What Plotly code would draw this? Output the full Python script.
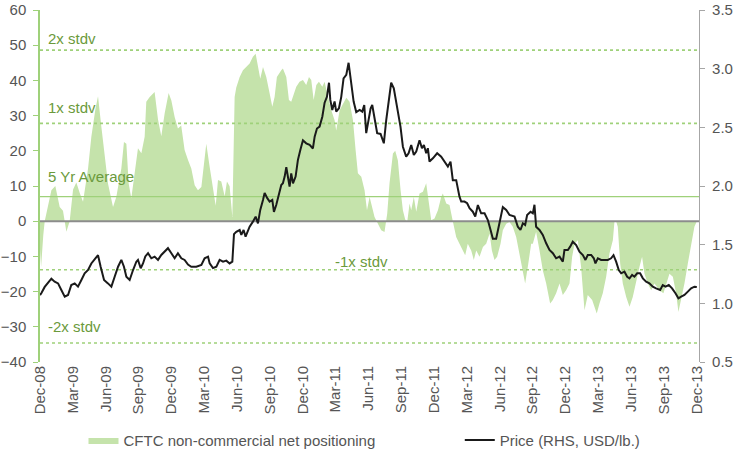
import plotly.graph_objects as go

# ---------------- data ----------------
# months since Dec-08
cftc_month = [0, 0.1, 0.3, 0.43, 1.04, 1.4, 1.8, 2.1, 2.41, 2.71, 3.02, 3.32, 3.63, 3.93, 4.39, 4.69,
              5.06, 5.3, 5.6, 5.91, 6.21, 6.67, 6.97, 7.43, 7.67, 7.89, 8.1, 8.34, 8.65, 8.95, 9.26,
              9.56, 9.71, 10.02, 10.47, 10.78, 11.08, 11.39, 11.75, 12.0, 12.3, 12.6, 12.9, 13.21,
              13.52, 13.82, 14.13, 14.43, 14.74, 15.04, 15.19, 15.5, 15.8, 16.05, 16.26, 16.56,
              16.87, 17.08, 17.32, 17.57, 17.78, 17.93, 18.24, 18.54, 19.15, 19.45, 19.7, 19.91,
              20.12, 20.37, 20.67, 20.98, 21.22, 21.43, 21.64, 22.04, 22.19, 22.5, 22.74, 22.95,
              23.17, 23.41, 23.71, 24.02, 24.32, 24.57, 24.78, 25.0, 25.24, 25.48, 25.79, 26.0,
              26.3, 26.61, 26.91, 27.06, 27.37, 27.67, 27.98, 28.28, 28.59, 28.83, 29.04, 29.35,
              29.65, 29.87, 30.11, 30.41, 30.56, 30.87, 31.17, 31.47, 31.72, 31.93, 32.24, 32.45,
              32.69, 32.94, 33.15, 33.36, 33.55, 33.76, 33.91, 34.15, 34.37, 34.67, 34.98, 35.28,
              35.43, 35.74, 36.04, 36.35, 36.65, 36.8, 37.11, 37.41, 37.71, 38.02, 38.32, 38.63,
              38.84, 39.08, 39.39, 39.63, 39.85, 40.15, 40.46, 40.76, 41.07, 41.28, 41.52, 41.76,
              42.07, 42.28, 42.59, 42.89, 43.19, 43.5, 43.8, 44.02, 44.32, 44.56, 44.87, 45.02,
              45.32, 45.63, 45.93, 46.24, 46.6, 46.85, 47.15, 47.46, 47.76, 48.06, 48.37, 48.61,
              48.83, 49.13, 49.43, 49.74, 50.04, 50.44, 50.86, 51.11, 51.41, 51.72, 52.02, 52.33,
              52.48, 52.63, 52.78, 53.0, 53.24, 53.55, 53.85, 54.15, 54.46, 54.76, 55.0, 55.22,
              55.52, 55.83, 56.13, 56.59, 56.95, 57.2, 57.5, 57.81, 58.11, 58.32, 58.57, 58.87,
              59.18, 59.48, 59.78, 60.0]
cftc_value = [-8, -13, -4, 0, 8.8, 10, 4, 3, -3, 0, 9, 11, 8, 5.5, 15, 24,
              31.8, 35.5, 27, 18.8, 10.7, 4, 6.9, 15, 22.5, 22, 10.7, 6.5, 14.5, 20.7, 19.3,
              24, 33.9, 35.3, 36.7, 28.9, 24.1, 30.7, 36.4, 34.3, 29.6, 26.3, 27.2, 20.2,
              17.4, 15, 10.2, 8.8, 9.7, 17.4, 22, 15.4, 8.8, 4.4, 11.7, 11.3,
              7.1, 11.3, 9.9, 1.2, 35.3, 38, 41, 42.9, 44.8, 46.7, 47.6, 44,
              40.5, 43.8, 41, 36.3, 32.5, 35.3, 41, 42.9, 43.4, 41, 34.4, 33.9,
              36.3, 38.2, 39.6, 40.1, 38.7, 41, 40.1, 34.4, 38.7, 39.6, 38.2, 39.6,
              35.3, 31.5, 28.7, 25.8, 31.5, 33.4, 35.1, 33.9, 28.7, 20.2, 13.6, 12.6,
              8.8, 3.1, 6.9, 3.1, 1.2, -0.7, -2.6, -3.1, 2.2, 10.8, 19.2, 20,
              17.3, 8.8, 3.1, 0.5, -0.1, 5, 3.1, 6.9, 2.7, 7.9, 8.4, 10.8,
              6.9, 0.3, 0.8, 3.1, 6.9, 7.9, 5, 4.6, 0, -4.5, -6.4, -8.3,
              -9.7, -6.4, -8.3, -11, -8.3, -10.1, -7.3, -6.4, -3.5, -8.3, -11, -10.1,
              -6.4, -2.6, -0.7, -0.2, -1.6, -4.5, -9.2, -13, -17.7, -13, -6.4, -6.4,
              -3, -8.3, -13.9, -17.7, -23.4, -22.4, -20.5, -17.7, -21, -19.6, -17.7, -10.1,
              -6.4, -5.4, -13, -25.3, -21, -22.4, -26.2, -23.4, -20.5, -15.8, -9.2, -5.4,
              0, 0, -1.6, -12, -17.7, -21.5, -24.3, -21.5, -16.8, -13, -10.1, -14.9,
              -17.7, -19.6, -17.7, -19.6, -20.5, -17.7, -14.9, -15.8, -20.5, -25.8, -22.4, -17.7,
              -12, -6.4, -1.6, 0]

price_month = [0, 0.12, 0.43, 0.73, 1.04, 1.34, 1.65, 1.95, 2.26, 2.56, 2.86, 3.17, 3.47, 3.78,
               4.08, 4.39, 4.69, 5.06, 5.3, 5.54, 5.85, 6.21, 6.52, 6.82, 7.13, 7.43, 7.67, 7.89,
               8.19, 8.5, 8.8, 8.95, 9.2, 9.41, 9.62, 9.87, 10.17, 10.47, 10.78, 11.08, 11.39,
               11.69, 12.0, 12.3, 12.6, 12.91, 13.21, 13.52, 13.82, 14.28, 14.74, 15.04, 15.35,
               15.5, 15.8, 16.11, 16.41, 16.72, 17.02, 17.32, 17.57, 17.72, 17.93, 18.24, 18.39,
               18.6, 18.78, 19.0, 19.15, 19.45, 19.7, 19.91, 20.12, 20.37, 20.52, 20.76, 20.98,
               21.22, 21.37, 21.58, 21.89, 22.04, 22.19, 22.35, 22.5, 22.65, 22.8, 22.95, 23.11,
               23.35, 23.56, 23.78, 24.02, 24.32, 24.63, 24.93, 25.09, 25.3, 25.54, 25.79, 26.0,
               26.21, 26.4, 26.52, 26.7, 26.91, 27.06, 27.31, 27.52, 27.73, 27.98, 28.19, 28.43,
               28.65, 28.89, 29.2, 29.44, 29.62, 29.8, 30.0, 30.2, 30.35, 30.56, 30.8, 31.11,
               31.41, 31.63, 31.84, 32.08, 32.32, 32.63, 32.93, 33.15, 33.45, 33.67, 33.91, 34.15,
               34.37, 34.67, 34.89, 35.07, 35.28, 35.43, 35.58, 35.89, 36.28, 36.65, 36.96, 37.26,
               37.5, 37.71, 38.02, 38.32, 38.48, 38.78, 39.02, 39.24, 39.54, 39.76, 40.0, 40.3,
               40.61, 40.91, 41.16, 41.37, 41.67, 41.98, 42.28, 42.59, 42.89, 43.35, 43.65, 43.89,
               44.11, 44.32, 44.5, 44.81, 45.02, 45.17, 45.32, 45.63, 45.93, 46.24, 46.54, 46.85,
               47.15, 47.46, 47.76, 47.91, 48.22, 48.43, 48.67, 48.98, 49.28, 49.59, 49.83, 50.04,
               50.35, 50.59, 50.74, 50.96, 51.26, 51.56, 51.87, 52.17, 52.39, 52.63, 52.87, 53.09,
               53.39, 53.64, 53.85, 54.09, 54.3, 54.55, 54.82, 55.07, 55.37, 55.67, 55.98, 56.28,
               56.65, 56.89, 57.14, 57.44, 57.74, 58.05, 58.32, 58.57, 58.87, 59.18, 59.48, 59.78,
               60.0]
price_value = [1.07, 1.086, 1.14, 1.17, 1.21, 1.185, 1.17, 1.114, 1.057, 1.071, 1.156, 1.17, 1.142, 1.199,
               1.256, 1.284, 1.34, 1.384, 1.41, 1.312, 1.199, 1.17, 1.142, 1.227, 1.312, 1.37, 1.312, 1.227,
               1.199, 1.284, 1.355, 1.37, 1.299, 1.34, 1.40, 1.427, 1.384, 1.398, 1.37, 1.412, 1.44,
               1.47, 1.427, 1.384, 1.427, 1.384, 1.37, 1.33, 1.312, 1.312, 1.327, 1.384, 1.398,
               1.34, 1.30, 1.312, 1.37, 1.355, 1.364, 1.34, 1.355, 1.59, 1.61, 1.625, 1.583,
               1.625, 1.568, 1.625, 1.653, 1.696, 1.739, 1.682, 1.796, 1.881, 1.94, 1.896, 1.867,
               1.881, 1.78, 1.838, 1.952, 2.009, 2.023, 2.08, 2.16, 2.08, 1.995, 2.108, 2.023,
               2.08, 2.222, 2.307, 2.39, 2.364, 2.35, 2.32, 2.42, 2.49, 2.506, 2.59, 2.71,
               2.76, 2.88, 2.734, 2.648, 2.72, 2.634, 2.663, 2.76, 2.918, 2.947, 3.05, 2.88,
               2.72, 2.63, 2.648, 2.634, 2.69, 2.45, 2.55, 2.66, 2.69, 2.563, 2.45, 2.444,
               2.364, 2.563, 2.734, 2.88, 2.833, 2.677, 2.506, 2.335, 2.25, 2.279, 2.35, 2.265,
               2.293, 2.39, 2.322, 2.35, 2.279, 2.322, 2.208, 2.236, 2.279, 2.25, 2.208, 2.165,
               2.208, 2.05, 2.05, 1.909, 1.867, 1.867, 1.853, 1.81, 1.781, 1.74, 1.838, 1.767,
               1.767, 1.71, 1.625, 1.55, 1.55, 1.682, 1.82, 1.796, 1.753, 1.739, 1.653, 1.625,
               1.682, 1.668, 1.753, 1.781, 1.767, 1.84, 1.653, 1.625, 1.583, 1.512, 1.455, 1.427,
               1.384, 1.398, 1.355, 1.455, 1.455, 1.483, 1.525, 1.497, 1.44, 1.412, 1.37, 1.412,
               1.412, 1.384, 1.341, 1.384, 1.37, 1.37, 1.37, 1.384, 1.41, 1.355, 1.284, 1.256,
               1.27, 1.227, 1.213, 1.242, 1.227, 1.256, 1.256, 1.213, 1.185, 1.171, 1.142, 1.128,
               1.114, 1.156, 1.142, 1.156, 1.128, 1.086, 1.043, 1.057, 1.071, 1.1, 1.128, 1.142,
               1.14]

band_levels = [48.6, 27.8, 7.0, -13.8, -34.6]
band_labels = ["2x stdv", "1x stdv", "5 Yr Average", "-1x stdv", "-2x stdv"]

x_tick_vals = list(range(0, 61, 3))
x_tick_text = ["Dec-08", "Mar-09", "Jun-09", "Sep-09", "Dec-09", "Mar-10", "Jun-10", "Sep-10",
               "Dec-10", "Mar-11", "Jun-11", "Sep-11", "Dec-11", "Mar-12", "Jun-12", "Sep-12",
               "Dec-12", "Mar-13", "Jun-13", "Sep-13", "Dec-13"]

# ---------------- figure ----------------
FONT = "Arial, 'Liberation Sans', sans-serif"
GREEN_FILL = "#c5e3ab"
GREEN_LINE = "#9fd17a"
GREEN_TEXT = "#6b9a3c"
GREY_TEXT = "#555555"
XMAX = 60.2
FS = 15

fig = go.Figure()

fig.add_trace(go.Scatter(
    x=cftc_month, y=cftc_value, mode="lines", fill="tozeroy",
    fillcolor=GREEN_FILL, line=dict(width=0, color=GREEN_FILL),
    name="CFTC non-commercial net positioning", hoverinfo="skip", legend="legend"))

for lvl, lab in zip(band_levels, band_labels):
    solid = lab.startswith("5 Yr")
    fig.add_trace(go.Scatter(
        x=[0, XMAX], y=[lvl, lvl], mode="lines", showlegend=False, hoverinfo="skip",
        line=dict(color=GREEN_LINE, width=1.2 if solid else 1.6,
                  dash="solid" if solid else "dot")))

fig.add_trace(go.Scatter(
    x=[0, XMAX], y=[0, 0], mode="lines", showlegend=False, hoverinfo="skip",
    line=dict(color="#8c8c8c", width=2)))

fig.add_trace(go.Scatter(
    x=price_month, y=price_value, mode="lines", yaxis="y2",
    line=dict(color="#1a1a1a", width=2),
    name="Price (RHS, USD/lb.)", legend="legend2"))

label_pos = [(0.55, 52), (0.55, 32.2), (0.55, 12.8), (26.8, -11.4), (0.55, -29.8)]
for (ax_x, ax_y), lab in zip(label_pos, band_labels):
    fig.add_annotation(x=ax_x, y=ax_y, text=lab, showarrow=False, xanchor="left",
                       yanchor="middle", font=dict(family=FONT, size=FS, color=GREEN_TEXT))

legend_common = dict(orientation="h", yanchor="middle", xanchor="left", y=-0.222,
                     font=dict(family=FONT, size=FS, color=GREY_TEXT), itemwidth=30,
                     bgcolor="rgba(0,0,0,0)")

fig.update_layout(
    width=736, height=457,
    margin=dict(l=40, r=37, t=10, b=95, autoexpand=False),
    paper_bgcolor="white", plot_bgcolor="white",
    font=dict(family=FONT, size=FS, color=GREY_TEXT),
    showlegend=True,
    legend=dict(x=0.066, **legend_common),
    legend2=dict(x=0.637, **legend_common),
    xaxis=dict(range=[0, XMAX], tickvals=x_tick_vals, ticktext=x_tick_text, tickangle=-90,
               showgrid=False, zeroline=False, showline=False, ticks="",
               tickfont=dict(family=FONT, size=FS, color=GREY_TEXT)),
    yaxis=dict(range=[-40, 60], dtick=10, showgrid=False, zeroline=False,
               showline=True, linecolor=GREEN_LINE, linewidth=1.5,
               ticks="outside", tickcolor=GREEN_LINE, ticklen=5, ticklabelstandoff=4,
               tickfont=dict(family=FONT, size=FS, color=GREY_TEXT)),
    yaxis2=dict(range=[0.5, 3.5], dtick=0.5, tickformat=".1f", overlaying="y", side="right",
                showgrid=False, zeroline=False, showline=True, linecolor="#a6a6a6",
                linewidth=1.2, ticks="outside", tickcolor="#a6a6a6", ticklen=5,
                ticklabelstandoff=4,
                tickfont=dict(family=FONT, size=FS, color=GREY_TEXT)),
)

fig.write_html("out.html", config={"displayModeBar": False},
               post_script="document.body.style.margin='0';document.body.style.overflow='hidden';")
